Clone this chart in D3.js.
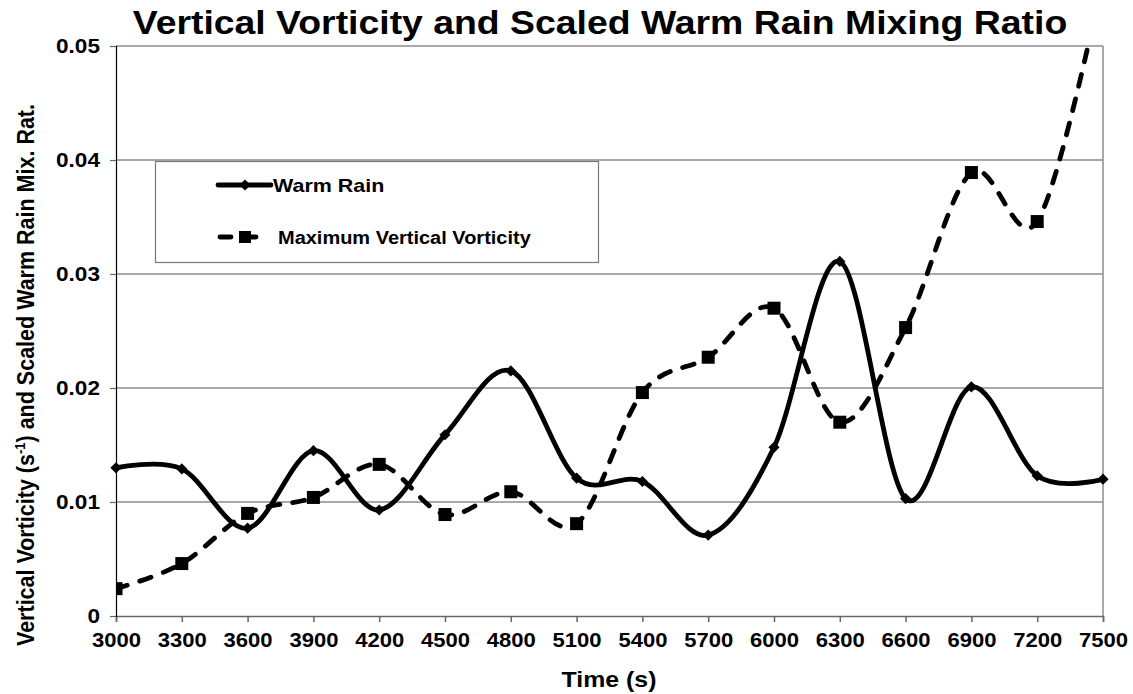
<!DOCTYPE html>
<html>
<head>
<meta charset="utf-8">
<script src="https://cdn.jsdelivr.net/npm/d3@7"></script>
<style>
	body { margin: 0; background: #fff; }
	svg { display: block; font-family: "Liberation Sans", Arial, sans-serif; }
</style>
</head>
<body>
<svg id="chart"></svg>
<script>
// data
let times = [3000, 3300, 3600, 3900, 4200, 4500, 4800, 5100, 5400, 5700, 6000, 6300, 6600, 6900, 7200, 7500];
let warmRain = [0.0130, 0.0129, 0.0077, 0.0145, 0.0093, 0.0159, 0.0215, 0.0121, 0.0118, 0.0071, 0.0148, 0.0311, 0.0103, 0.0201, 0.0123, 0.0120];
// last value runs off the top of the chart, estimated from where the curve leaves
let maxVort = [0.0024, 0.0046, 0.0090, 0.0104, 0.0133, 0.0089, 0.0109, 0.0081, 0.0196, 0.0227, 0.0270, 0.0170, 0.0253, 0.0389, 0.0346, 0.0560];
let yTicks = [0, 0.01, 0.02, 0.03, 0.04, 0.05];
let seriesNames = ['Warm Rain', 'Maximum Vertical Vorticity'];

let W = 1133, H = 694;
let marg = { top: 46, right: 30, bottom: 78, left: 116 };
let stretch = 1.13; // text in the picture is a bit wide, squash it out horizontally

const svg = d3.select('#chart')
	.attr('width', W)
	.attr('height', H);

const x = d3.scaleLinear()
	.domain([3000, 7500])
	.range([marg.left, W - marg.right]);

const y = d3.scaleLinear()
	.domain([0, 0.05])
	.range([H - marg.bottom, marg.top]);

svg.append('defs').append('clipPath')
	.attr('id', 'plotclip')
	.append('rect')
	.attr('x', marg.left)
	.attr('y', marg.top)
	.attr('width', x.range()[1] - marg.left)
	.attr('height', y.range()[0] - marg.top);

// gridlines
svg.append('g')
	.selectAll('line')
	.data(yTicks.slice(1))
	.enter()
	.append('line')
	.attr('x1', x.range()[0])
	.attr('x2', x.range()[1])
	.attr('y1', d => y(d))
	.attr('y2', d => y(d))
	.attr('stroke', '#8c8c8c')
	.attr('stroke-width', 1.5);

// right border of plot area
svg.append('line')
	.attr('x1', x.range()[1]).attr('x2', x.range()[1])
	.attr('y1', y.range()[1]).attr('y2', y.range()[0])
	.attr('stroke', '#8c8c8c')
	.attr('stroke-width', 1.5);

// axes
const xAxis = d3.axisBottom(x).tickValues(times).tickFormat(d3.format('d')).tickSize(6).tickPadding(11);
const yAxis = d3.axisLeft(y).tickValues(yTicks).tickFormat(d => d === 0 ? '0' : d3.format('.2f')(d)).tickSize(6).tickPadding(12);

const gx = svg.append('g')
	.attr('transform', 'translate(0,' + y.range()[0] + ')')
	.call(xAxis);
gx.select('.domain').attr('stroke', '#666').attr('stroke-width', 1.5);
gx.selectAll('.tick line').attr('stroke', '#666').attr('stroke-width', 1.5);
gx.selectAll('.tick text')
	.attr('font-size', 19.5)
	.attr('font-weight', 'bold')
	.attr('fill', '#000')
	.attr('font-family', '"Liberation Sans", Arial, sans-serif')
	.attr('transform', 'scale(' + stretch + ',1)');

const gy = svg.append('g')
	.attr('transform', 'translate(' + marg.left + ',0)')
	.call(yAxis);
gy.select('.domain').attr('stroke', '#000').attr('stroke-width', 1.2);
gy.selectAll('.tick line').attr('stroke', '#666').attr('stroke-width', 1.2);
gy.selectAll('.tick text')
	.attr('font-size', 20)
	.attr('font-weight', 'bold')
	.attr('fill', '#000')
	.attr('font-family', '"Liberation Sans", Arial, sans-serif')
	.attr('x', 0)
	.attr('transform', 'translate(-16,0) scale(' + stretch + ',1)');

// series
const line = d3.line()
	.x(d => x(d[0]))
	.y(d => y(d[1]))
	.curve(d3.curveCardinal.tension(0));

let warmData = times.map((t, i) => [t, warmRain[i]]);
let vortData = times.map((t, i) => [t, maxVort[i]]);

const plot = svg.append('g').attr('clip-path', 'url(#plotclip)');

plot.append('path')
	.datum(vortData)
	.attr('d', line)
	.attr('fill', 'none')
	.attr('stroke', '#000')
	.attr('stroke-width', 4.8)
	.attr('stroke-linecap', 'round')
	.attr('stroke-dasharray', '12,13');

plot.selectAll('rect.vort')
	.data(vortData)
	.enter()
	.append('rect')
	.attr('class', 'vort')
	.attr('x', d => x(d[0]) - 6.5)
	.attr('y', d => y(d[1]) - 6.5)
	.attr('width', 13)
	.attr('height', 13)
	.attr('fill', '#000');

plot.append('path')
	.datum(warmData)
	.attr('d', line)
	.attr('fill', 'none')
	.attr('stroke', '#000')
	.attr('stroke-width', 4.8);

const diamond = d3.symbol().type(d3.symbolDiamond2).size(80);

svg.selectAll('path.warm')
	.data(warmData)
	.enter()
	.append('path')
	.attr('class', 'warm')
	.attr('d', diamond)
	.attr('transform', d => 'translate(' + x(d[0]) + ',' + y(d[1]) + ')')
	.attr('fill', '#000');

// puts a text at (tx, ty) widened by the stretch factor
function wideText(sel, tx, ty, size, str, anchor, sx) {
	return sel.append('text')
		.attr('transform', 'translate(' + tx + ',' + ty + ') scale(' + (sx || stretch) + ',1)')
		.attr('text-anchor', anchor || 'start')
		.attr('font-size', size)
		.attr('font-weight', 'bold')
		.text(str);
}

// legend
const leg = svg.append('g');
leg.append('rect')
	.attr('x', 155.5).attr('y', 161.5)
	.attr('width', 443).attr('height', 101)
	.attr('fill', '#fff')
	.attr('stroke', '#777')
	.attr('stroke-width', 1.2);

leg.append('line')
	.attr('x1', 218).attr('x2', 271).attr('y1', 185).attr('y2', 185)
	.attr('stroke', '#000').attr('stroke-width', 4.8).attr('stroke-linecap', 'round');
leg.append('path')
	.attr('d', diamond)
	.attr('transform', 'translate(245,185)')
	.attr('fill', '#000');
wideText(leg, 273, 192, 19, seriesNames[0]);

leg.append('line')
	.attr('x1', 220).attr('x2', 264).attr('y1', 237).attr('y2', 237)
	.attr('stroke', '#000').attr('stroke-width', 4.8).attr('stroke-linecap', 'round')
	.attr('stroke-dasharray', '11,14');
leg.append('rect')
	.attr('x', 239).attr('y', 231).attr('width', 12).attr('height', 12)
	.attr('fill', '#000');
wideText(leg, 278, 244, 18.5, seriesNames[1], 'start', 1.08);

// titles
wideText(svg, 600, 34, 32.5, 'Vertical Vorticity and Scaled Warm Rain Mixing Ratio', 'middle', 1.15);
wideText(svg, 609, 687, 22, 'Time (s)', 'middle');

const ylab = svg.append('text')
	.attr('transform', 'translate(34,375) rotate(-90) scale(1,' + stretch + ')')
	.attr('text-anchor', 'middle')
	.attr('font-size', 21.5).attr('font-weight', 'bold');
ylab.append('tspan').text('Vertical Vorticity (s');
ylab.append('tspan').attr('dy', -8).attr('font-size', 13).text('-1');
ylab.append('tspan').attr('dy', 8).text(') and Scaled Warm Rain Mix. Rat.');
</script>
</body>
</html>
